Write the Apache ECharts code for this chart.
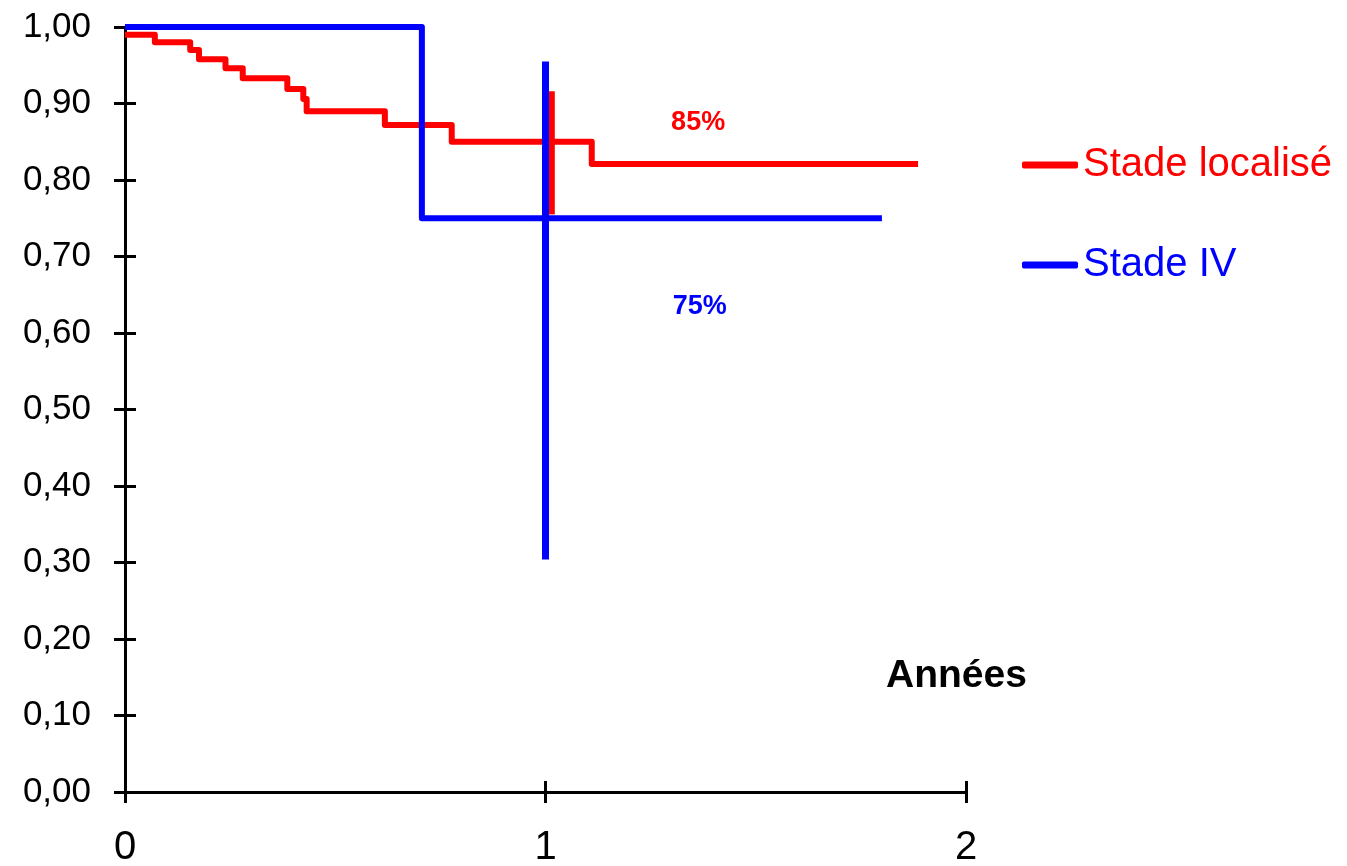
<!DOCTYPE html>
<html>
<head>
<meta charset="utf-8">
<title>Survie selon le stade</title>
<script src="https://cdn.jsdelivr.net/npm/echarts@6/dist/echarts.min.js"></script>
<style>
  html, body { margin: 0; padding: 0; background: #ffffff; }
  #chart { width: 1347px; height: 866px; }
</style>
</head>
<body>
<div id="chart"></div>
<script>
// Kaplan-Meier survival steps (time in years, survival probability)
const localTimes = [0, 0.071, 0.155, 0.176, 0.239, 0.280, 0.386, 0.424, 0.432, 0.618, 0.777, 1.110, 1.886];
const localSurv  = [0.99, 0.98, 0.97, 0.958, 0.946, 0.933, 0.919, 0.906, 0.890, 0.872, 0.850, 0.821, 0.821];

const stage4Times = [0, 0.706, 1.80];
const stage4Surv  = [1.00, 0.75, 0.75];

// Confidence intervals at one year: [time, lower, upper]
const localCI  = [1.015, 0.755, 0.916];
const stage4CI = [1.000, 0.304, 0.955];

// One-year survival shown as percentages
const oneYearSurv = [0.85, 0.75];

const seriesNames = ['Stade localisé', 'Stade IV'];
const xTicks = [0, 1, 2];
const yTicks = [0, 0.1, 0.2, 0.3, 0.4, 0.5, 0.6, 0.7, 0.8, 0.9, 1.0];

const RED = '#ff0000';
const BLUE = '#0000ff';
const FONT = '"Liberation Sans", Arial, sans-serif';

const zip = (xs, ys) => xs.map((x, i) => [x, ys[i]]);
const ciSegment = ci => [[ci[0], ci[1]], [ci[0], ci[2]]];
const pct = v => Math.round(v * 100) + '%';

const chart = echarts.init(document.getElementById('chart'), null, { renderer: 'canvas' });

const tickStyle = { color: '#000', width: 3 };

const option = {
  backgroundColor: '#ffffff',
  animation: false,
  grid: { left: 125, right: 381, top: 27, bottom: 74, outerBoundsMode: 'none' },
  xAxis: [
    {
      type: 'value', min: xTicks[0], max: xTicks[xTicks.length - 1], interval: 1,
      position: 'bottom',
      axisLine: { show: true, lineStyle: { color: '#000', width: 3 } },
      axisTick: { show: true, inside: false, length: 11, lineStyle: tickStyle },
      axisLabel: { margin: 36, fontSize: 40, color: '#000', fontFamily: FONT },
      splitLine: { show: false }
    },
    {
      type: 'value', min: xTicks[0], max: xTicks[xTicks.length - 1], interval: 1,
      position: 'bottom', offset: 0,
      axisLine: { show: false },
      axisTick: { show: true, inside: true, length: 11, lineStyle: tickStyle },
      axisLabel: { show: false },
      splitLine: { show: false }
    }
  ],
  yAxis: [
    {
      type: 'value', min: yTicks[0], max: yTicks[yTicks.length - 1], interval: 0.1,
      position: 'left',
      axisLine: { show: true, lineStyle: { color: '#000', width: 3 } },
      axisTick: { show: true, inside: false, length: 11, lineStyle: tickStyle },
      axisLabel: {
        margin: 34, fontSize: 35, color: '#000', fontFamily: FONT,
        formatter: v => v.toFixed(2).replace('.', ',')
      },
      splitLine: { show: false }
    },
    {
      type: 'value', min: yTicks[0], max: yTicks[yTicks.length - 1], interval: 0.1,
      position: 'left', offset: 0,
      axisLine: { show: false },
      axisTick: { show: true, inside: true, length: 11, lineStyle: tickStyle },
      axisLabel: { show: false },
      splitLine: { show: false }
    }
  ],
  legend: {
    orient: 'vertical',
    left: 1017,
    top: 140,
    itemGap: 60,
    itemWidth: 56,
    itemHeight: 7,
    icon: 'roundRect',
    textStyle: { fontSize: 40, fontFamily: FONT },
    data: [
      { name: seriesNames[0], textStyle: { color: RED } },
      { name: seriesNames[1], textStyle: { color: BLUE } }
    ]
  },
  series: [
    {
      name: seriesNames[0], type: 'line', step: 'end', symbol: 'none',
      data: zip(localTimes, localSurv),
      lineStyle: { color: RED, width: 6, join: 'round' },
      itemStyle: { color: RED }, z: 2
    },
    {
      name: 'ci-local', type: 'line', symbol: 'none',
      data: ciSegment(localCI),
      lineStyle: { color: RED, width: 6 }, z: 2
    },
    {
      name: seriesNames[1], type: 'line', step: 'end', symbol: 'none',
      data: zip(stage4Times, stage4Surv),
      lineStyle: { color: BLUE, width: 6, join: 'round' },
      itemStyle: { color: BLUE }, z: 3
    },
    {
      name: 'ci-stage4', type: 'line', symbol: 'none',
      data: ciSegment(stage4CI),
      lineStyle: { color: BLUE, width: 7 }, z: 3
    },
    {
      name: 'pct-labels', type: 'scatter', symbolSize: 1,
      itemStyle: { color: 'transparent' },
      silent: true, z: 4,
      data: [
        { value: [1.363, 0.875], label: { color: RED, formatter: pct(oneYearSurv[0]) } },
        { value: [1.367, 0.634], label: { color: BLUE, formatter: pct(oneYearSurv[1]) } }
      ],
      label: {
        show: true, position: 'inside',
        fontSize: 27, fontWeight: 'bold', fontFamily: FONT,
        textBorderWidth: 0, textBorderColor: 'transparent', opacity: 1
      }
    }
  ],
  graphic: [
    {
      type: 'text', left: 886, top: 657,
      style: { text: 'Années', fontSize: 39, fontWeight: 'bold', fontFamily: FONT, fill: '#000' }
    }
  ]
};

chart.setOption(option);
</script>
</body>
</html>
